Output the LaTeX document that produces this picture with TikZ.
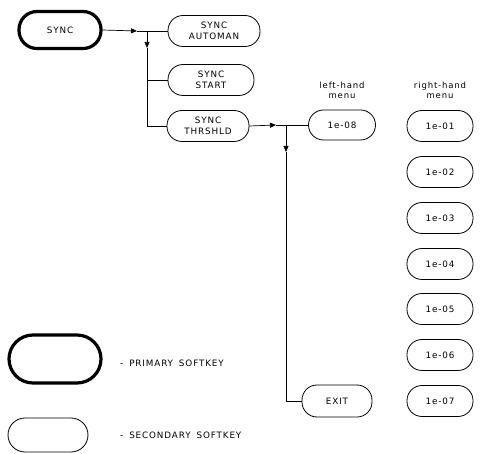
\documentclass[tikz,border=0pt]{standalone}
\usepackage{fontspec}
\setmainfont{DejaVu Sans}[LetterSpace=10,WordSpace=1.6]
\usetikzlibrary{arrows.meta}
\tikzset{
  x=1pt,y=-1pt,
  key/.style={draw,line width=0.8pt,rounded corners=15pt,align=center,inner sep=0pt,
    font=\fontsize{8.8}{10.5}\selectfont,minimum height=31pt},
  pkey/.style={key,line width=3.2pt,rounded corners=18pt},
  conn/.style={line width=0.7pt},
  arr/.style={conn,-{Triangle[width=5pt,length=6pt]}},
  lbl/.style={font=\fontsize{8.5}{10}\selectfont,align=center,inner sep=0pt},
  leg/.style={font=\fontsize{8.8}{10}\selectfont,anchor=west,inner sep=0pt}
}
\begin{document}
\begin{tikzpicture}
\useasboundingbox (0,0) rectangle (480,454);
% main keys
\node[pkey,minimum width=82pt,minimum height=37pt] (sync) at (60,30) {SYNC};
\node[key,minimum width=92pt] (auto) at (214,31) {SYNC\\AUTOMAN};
\node[key,minimum width=86pt] (start) at (211,80) {SYNC\\START};
\node[key,minimum width=82pt] (thr) at (208,126) {SYNC\\THRSHLD};
% menus
\node[lbl] (lh) at (342,90) {left-hand\\menu};
\node[lbl] (rh) at (440,90) {right-hand\\menu};
\node[key,minimum width=67pt,minimum height=30pt] (e08) at (342,125) {1e-08};
\foreach \n/\y in {01/126,02/172,03/218,04/264,05/309,06/355,07/401}
  \node[key,minimum width=66pt] (e\n) at (440,\y) {1e-\n};
\node[key,minimum width=70pt,minimum height=32pt] (exit) at (337,401) {EXIT};
% connectors
\coordinate (a1) at (137,31);
\coordinate (j1) at (147,31);
\coordinate (d1) at (147,48);
\coordinate (b1) at (147,80);
\coordinate (b2) at (147,126);
\draw[arr] (sync.east) -- (a1);
\draw[conn] (a1) -- (auto.west);
\draw[arr] (j1) -- (d1);
\draw[conn] (d1) -- (b2) -- (thr.west);
\draw[conn] (b1) -- (start.west);
\coordinate (a2) at (276,125);
\coordinate (j2) at (286,125);
\coordinate (d2) at (286,152);
\coordinate (b3) at (286,401);
\draw[arr] (thr.east) -- (a2);
\draw[conn] (a2) -- (e08.west);
\draw[arr] (j2) -- (d2);
\draw[conn] (d2) -- (b3) -- (exit.west);
% legend
\node[pkey,minimum width=92pt,minimum height=48pt,rounded corners=24pt] (lp) at (55,359) {};
\node[key,minimum width=80pt,minimum height=34pt,rounded corners=17pt] (ls) at (48,435) {};
\node[leg] (tp) at (120,363) {- PRIMARY SOFTKEY};
\node[leg] (ts) at (120,435) {- SECONDARY SOFTKEY};
\end{tikzpicture}
\end{document}
